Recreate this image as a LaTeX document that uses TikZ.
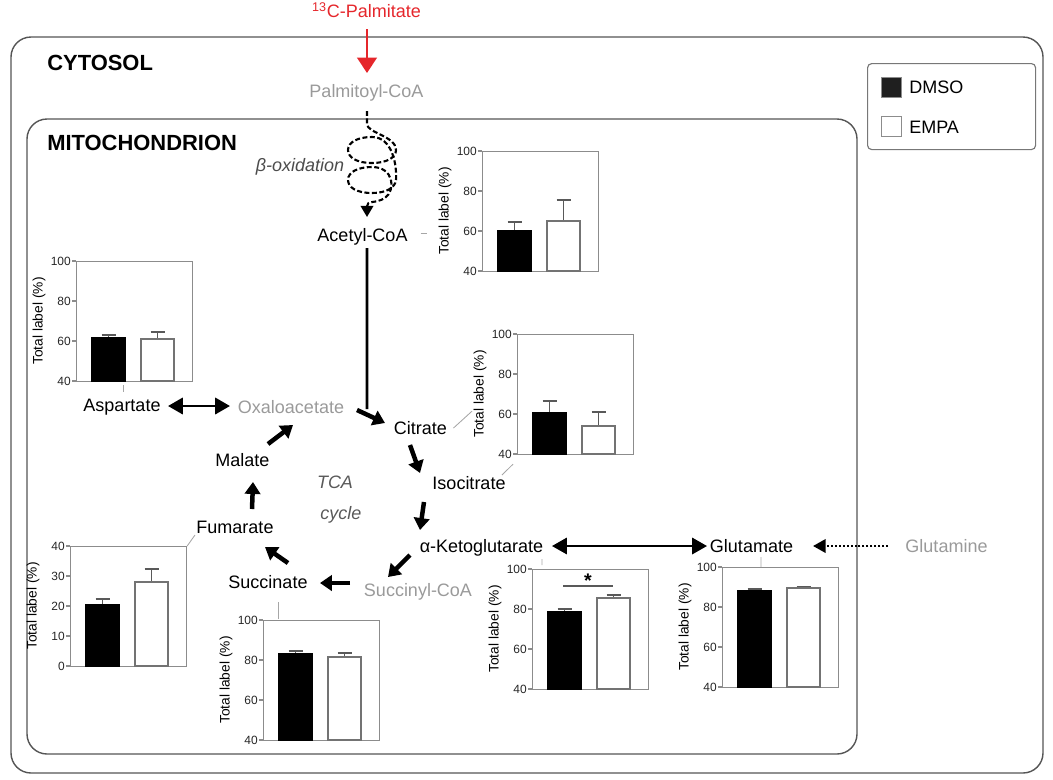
\documentclass[tikz,border=0pt]{standalone}
\usepackage{fontspec}
\setmainfont{Liberation Sans}
\usetikzlibrary{arrows.meta}

\definecolor{metgray}{HTML}{9A9A9A}
\definecolor{tracered}{HTML}{E5262B}
\definecolor{boxgray}{HTML}{555555}
\definecolor{framegray}{HTML}{8C8C8C}

% name, left, top, ticks, tick step, DMSO bar, DMSO error, EMPA bar, EMPA error (heights in px)
\newcommand{\labelchart}[9]{%
  \node[chartframe, anchor=north west] (#1) at (#2,#3) {};
  \foreach \tick [count=\i from 0] in {#4}{%
    \draw[charttick] (#2-4,#3+\i*#5) -- (#2,#3+\i*#5);
    \node[ticklabel] (#1-t\i) at (#2-5,#3+\i*#5) {\tick};
  }
  \node[axislabel] (#1-lab) at (#2-37,#3+60) {Total label (\%)};
  \draw[errbar] (#2+32.5,#3+120-#6) -- (#2+32.5,#3+120-#7) ++(-7,0) -- ++(14,0);
  \draw[errbar] (#2+81.5,#3+120-#8) -- (#2+81.5,#3+120-#9) ++(-7,0) -- ++(14,0);
  \draw[dmsobar] (#2+16,#3+120) rectangle (#2+49,#3+120-#6);
  \draw[empabar] (#2+65,#3+120) rectangle (#2+98,#3+120-#8);
}

\begin{document}
\begin{tikzpicture}[x=0.025cm,y=-0.025cm,
  lbl/.style={font=\fontsize{12.8}{15}\selectfont, inner sep=0pt, text height=9.2pt, text depth=0pt},
  grey/.style={lbl, text=metgray},
  region/.style={font=\bfseries\fontsize{15.6}{18}\selectfont, inner sep=0pt, text height=11.2pt, text depth=0pt, anchor=west},
  note/.style={font=\itshape\fontsize{12.8}{15}\selectfont, inner sep=0pt, text height=9.2pt, text depth=0pt, text=black!65},
  compartment/.style={draw=boxgray, line width=1pt, rounded corners=0.5cm},
  tca/.style={line width=3.2pt, -{Triangle[length=8.5pt,width=11pt]}},
  exchange/.style={line width=2pt, {Triangle[length=10.5pt,width=11.5pt]}-{Triangle[length=10.5pt,width=11.5pt]}},
  uptake/.style={line width=1.8pt, dash pattern=on 1.4pt off 1.4pt, -{Triangle[length=9pt,width=9.5pt]}},
  tracer/.style={line width=1.8pt, tracered, -{Triangle[length=11pt,width=14pt]}},
  betaox/.style={line width=1.5pt, dash pattern=on 3.5pt off 1.8pt, -{Triangle[length=8pt,width=9pt]}},
  feed/.style={line width=1.8pt},
  leader/.style={draw=black!35, line width=0.6pt},
  chartframe/.style={draw=framegray, line width=0.8pt, inner sep=0pt, minimum width=2.9cm, minimum height=3cm},
  charttick/.style={draw=framegray, line width=0.8pt},
  ticklabel/.style={font=\fontsize{8.5}{10}\selectfont, anchor=east, inner sep=0pt, text=black!85},
  axislabel/.style={font=\fontsize{9.8}{11}\selectfont, rotate=90, inner sep=0pt},
  errbar/.style={draw=black!65, line width=0.8pt},
  dmsobar/.style={draw=black, fill=black, line width=0.8pt},
  empabar/.style={draw=black!55, fill=white, line width=0.8pt}]
\useasboundingbox (0,0) rectangle (1053,779);

% compartments
\draw[compartment] (11,37) rectangle (1043,773);
\draw[compartment] (27,119) rectangle (857,754);
\node[region] (cytosol) at (47,63) {CYTOSOL};
\node[region] (mito) at (47,143) {MITOCHONDRION};

% legend
\node[draw=boxgray!80, line width=0.8pt, rounded corners=3pt, minimum width=4.2cm, minimum height=2.15cm, inner sep=0pt, anchor=north west] (legend) at (867,63) {};
\node[draw=framegray, fill=black!88, minimum size=0.5cm, inner sep=0pt] (dmsokey) at (891.5,87.5) {};
\node[draw=framegray, fill=white, minimum size=0.5cm, inner sep=0pt] (empakey) at (891.5,126.5) {};
\node[lbl, anchor=west] (dmsotext) at (909,87.5) {DMSO};
\node[lbl, anchor=west] (empatext) at (909,127) {EMPA};

% metabolites
\node[lbl, text=tracered] (palm) at (366.5,11) {\textsuperscript{13}C-Palmitate};
\node[grey] (pcoa) at (366.5,91) {Palmitoyl-CoA};
\node[note, text=black!70] (beta) at (300,165) {β-oxidation};
\node[lbl] (acoa) at (362.5,235) {Acetyl-CoA};
\node[lbl] (asp) at (122,405) {Aspartate};
\node[grey] (oaa) at (291,407) {Oxaloacetate};
\node[lbl] (cit) at (420.5,428) {Citrate};
\node[lbl] (icit) at (469,483) {Isocitrate};
\node[lbl] (akg) at (481.5,546) {α-Ketoglutarate};
\node[lbl] (glu) at (751.5,546) {Glutamate};
\node[grey] (gln) at (946.5,546) {Glutamine};
\node[grey] (scoa) at (418,590) {Succinyl-CoA};
\node[lbl] (succ) at (268,582) {Succinate};
\node[lbl] (fum) at (235,527) {Fumarate};
\node[lbl] (mal) at (242.5,460) {Malate};
\node[note] (tca) at (335,482) {TCA};
\node[note] (cyc) at (341,513) {cycle};
\coordinate (merge) at (367,409);

% palmitate entry and beta-oxidation
\draw[tracer] ([shift={(0.5,18)}]palm.center) -- ([shift={(0.5,-18)}]pcoa.center);
\draw[betaox] ([shift={(0.5,20)}]pcoa.center) -- (367,124)
  .. controls (367,133) and (396,136) .. (396,150)
  .. controls (396,158) and (386,163) .. (372,163)
  .. controls (356,163) and (348,157) .. (348,150)
  .. controls (348,142) and (358,137) .. (372,137)
  .. controls (392,137) and (397,164) .. (396,180)
  .. controls (395,188) and (386,193) .. (372,193)
  .. controls (356,193) and (348,187) .. (348,180)
  .. controls (348,172) and (358,167) .. (372,167)
  .. controls (394,167) and (396,190) .. (385,198)
  .. controls (375,204) and (367,200) .. ([shift={(4.5,-18)}]acoa.center);
\draw[feed] ([shift={(4.5,13)}]acoa.center) -- (merge);

% TCA cycle
\draw[tca] ([shift={(66,3)}]oaa.center) -- ([shift={(-35.5,-5)}]cit.center);
\draw[tca] ([shift={(-10.5,17)}]cit.center) -- ([shift={(-49,-10)}]icit.center);
\draw[tca] ([shift={(-45,19)}]icit.center) -- ([shift={(-61.5,-16)}]akg.center);
\draw[tca] ([shift={(-71.5,9)}]akg.center) -- ([shift={(-30,-13)}]scoa.center);
\draw[tca] ([shift={(-68,-7)}]scoa.center) -- ([shift={(52,1)}]succ.center);
\draw[tca] ([shift={(20,-19)}]succ.center) -- ([shift={(30,20)}]fum.center);
\draw[tca] ([shift={(17,-18)}]fum.center) -- ([shift={(10.5,22)}]mal.center);
\draw[tca] ([shift={(25.5,-16)}]mal.center) -- ([shift={(2,18)}]oaa.center);

% exchanges
\draw[exchange] ([shift={(46,1)}]asp.center) -- ([shift={(-61,-1)}]oaa.center);
\draw[exchange, line width=1.6pt] ([shift={(70.5,0)}]akg.center) -- ([shift={(-44.5,0)}]glu.center);
\draw[uptake] ([shift={(-58.5,0)}]gln.center) -- ([shift={(61.5,0)}]glu.center);

% label enrichment charts
\labelchart{acoachart}{482}{151}{100,80,60,40}{40}{40}{49}{50}{71}
\labelchart{aspchart}{76}{261}{100,80,60,40}{40}{43}{46}{42}{49}
\labelchart{citchart}{517}{334}{100,80,60,40}{40}{41}{53}{28}{42}
\labelchart{fumchart}{70}{546}{40,30,20,10,0}{30}{61}{67}{84}{97}
\labelchart{succchart}{263}{620}{100,80,60,40}{40}{86}{89}{83}{87}
\labelchart{akgchart}{532}{569}{100,80,60,40}{40}{77}{80}{91}{94}
\labelchart{gluchart}{722}{567}{100,80,60,40}{40}{96}{98}{99}{100}

% significance
\draw[errbar, line width=1pt] ([shift={(31,17)}]akgchart.north west) -- ([shift={(81,17)}]akgchart.north west);
\node[font=\bfseries\fontsize{14}{16}\selectfont, inner sep=0pt] (sig) at (588,581) {*};

% leaders from metabolites to charts
\draw[leader] ([shift={(58,-2)}]acoa.center) -- ([shift={(-55,82)}]acoachart.north west);
\draw[leader] ([shift={(47,3)}]aspchart.south west) -- ([shift={(1,-13)}]asp.center);
\draw[leader] ([shift={(33,0)}]cit.center) -- ([shift={(-45,-44)}]citchart.south west);
\draw[leader] ([shift={(33,-8)}]icit.center) -- ([shift={(-4,9)}]citchart.south west);
\draw[leader] ([shift={(-40,8)}]fum.center) -- (fumchart.north east);
\draw[leader] ([shift={(10,20)}]succ.center) -- ([shift={(15,-1)}]succchart.north west);
\draw[leader] ([shift={(60.5,13)}]akg.center) -- ([shift={(10,-4)}]akgchart.north west);
\draw[leader] ([shift={(9.5,11)}]glu.center) -- ([shift={(39,0)}]gluchart.north west);

\end{tikzpicture}
\end{document}
